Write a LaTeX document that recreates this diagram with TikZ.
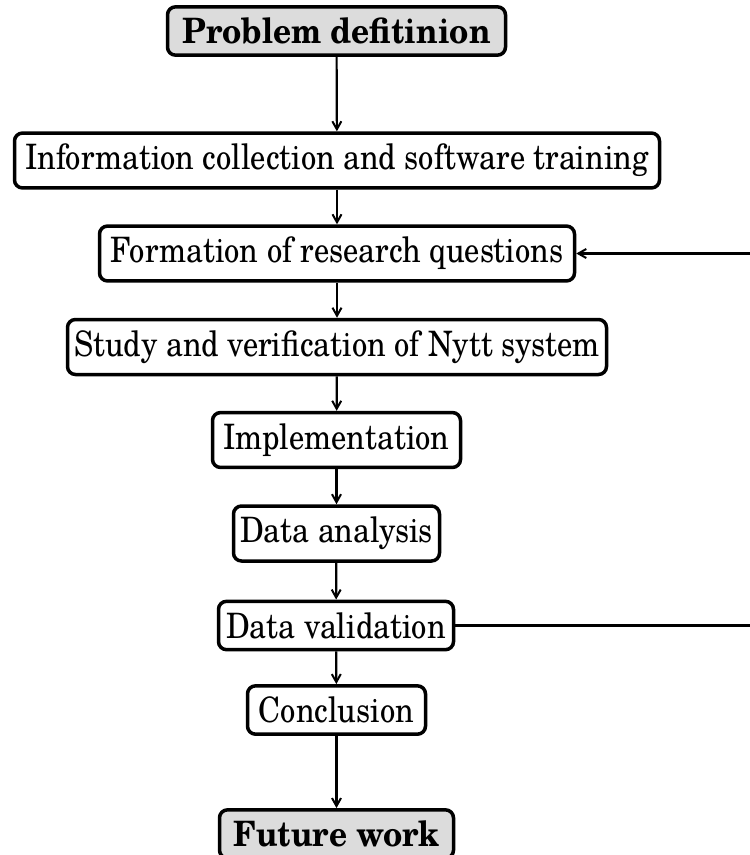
\documentclass[tikz,border=0pt]{standalone}
\usepackage{fontspec}
\setmainfont{TeX Gyre Schola}[FakeStretch=0.87, BoldFeatures={FakeStretch=0.9}]
\usetikzlibrary{arrows.meta}
\definecolor{termfill}{RGB}{220,220,220}
\begin{document}
\begin{tikzpicture}[x=1pt,y=-1pt,
  stage/.style={draw, line width=3.5pt, rounded corners=8pt, inner xsep=0pt,
    inner ysep=11pt, font=\fontsize{35}{40}\selectfont, align=center},
  terminal/.style={stage, fill=termfill, font=\fontsize{35}{40}\selectfont\bfseries},
  flow/.style={-{Straight Barb[length=8pt,width=9pt,line width=2pt]}, line width=2.2pt}]
\useasboundingbox (0,0) rectangle (750,855);

% process stages, top to bottom
\node[terminal, minimum width=338pt] (prob) at (336.5,31)  {Problem defitinion};
\node[stage, minimum width=645pt] (info) at (337,160.5) {Information collection and software training};
\node[stage, minimum width=475pt] (form) at (337,253.5) {Formation of research questions};
\node[stage, minimum width=539pt] (study) at (337,347) {Study and verification of Nytt system};
\node[stage, minimum width=248pt] (impl) at (336.5,440) {Implementation};
\node[stage, minimum width=206pt] (anal) at (336.5,533.5) {Data analysis};
\node[stage, minimum width=235pt] (valid) at (336,625.5) {Data validation};
\node[stage, minimum width=178pt] (concl) at (336.5,710) {Conclusion};
\node[terminal, minimum width=234pt] (future) at (336.5,834) {Future work};

% main flow
\draw[flow] (prob) -- (info);
\draw[flow] (info) -- (form);
\draw[flow] (form) -- (study);
\draw[flow] (study) -- (impl);
\draw[flow] (impl) -- (anal);
\draw[flow] (anal) -- (valid);
\draw[flow] (valid) -- (concl);
\draw[flow] (concl) -- (future);

% feedback loop from validation back to the research questions
\coordinate (loop) at (770,0);
\draw[flow] (valid.east) -- (valid.east -| loop) -- (form.east -| loop) -- (form.east);
\end{tikzpicture}
\end{document}
